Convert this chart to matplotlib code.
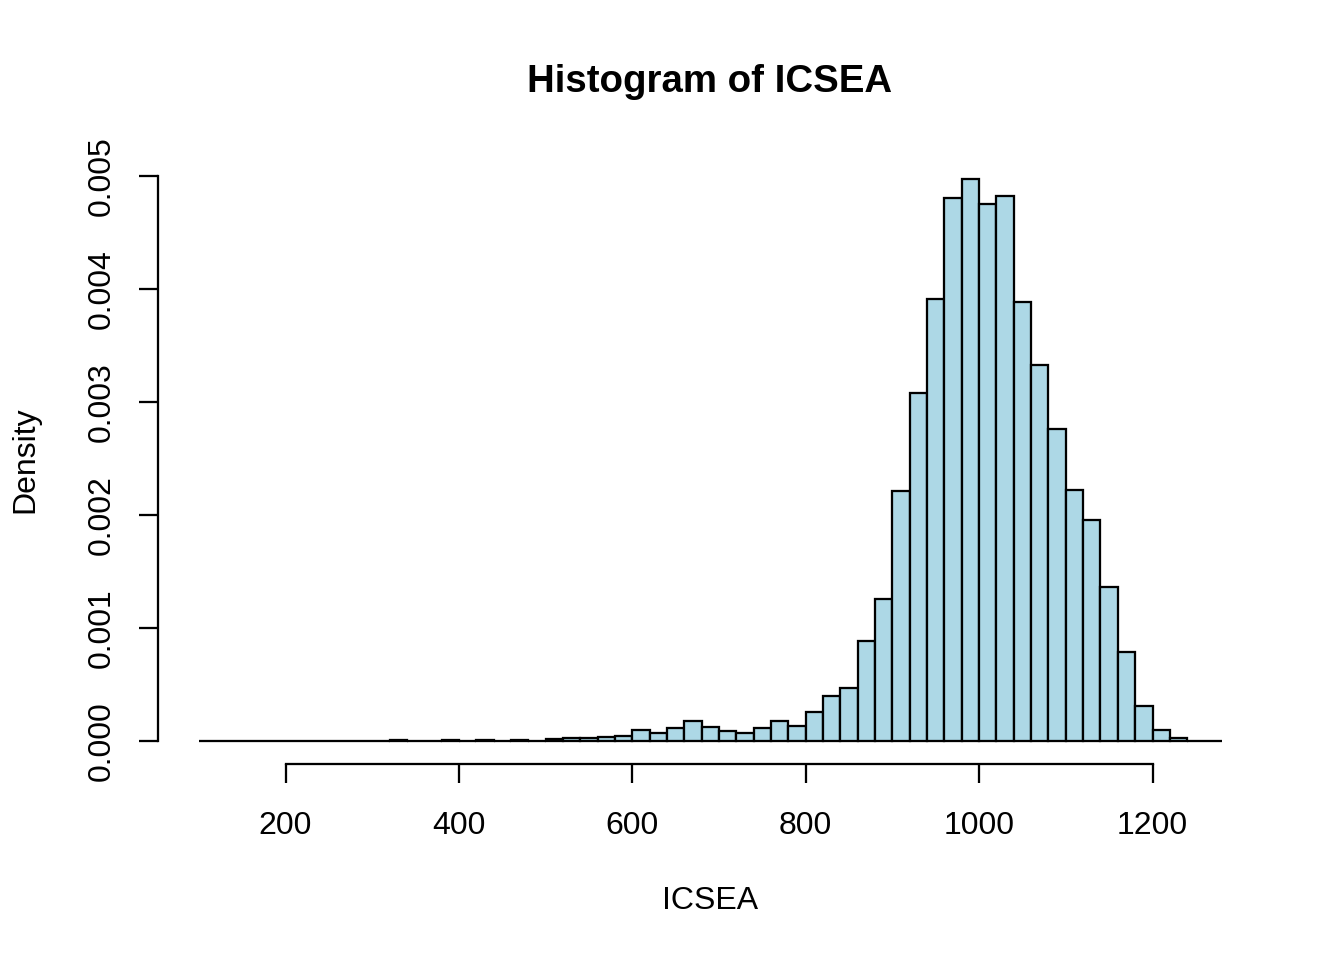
import matplotlib.pyplot as plt
import numpy as np

plt.rcParams["font.family"] = ["Liberation Sans", "DejaVu Sans"]

# histogram of ICSEA, bins of width 20 from 100 to 1280
breaks = np.arange(100, 1281, 20)
density = [
    0, 0, 0, 0, 0, 0, 0, 0, 0, 0, 0,          # 100 - 320
    1.3e-5, 0, 0, 1.3e-5, 0, 1.3e-5, 0, 1.3e-5, 0,  # 320 - 500
    2.0e-5, 2.7e-5, 2.7e-5, 4.0e-5, 4.9e-5,   # 500 - 600
    9.5e-5, 6.8e-5, 1.15e-4, 1.74e-4, 1.24e-4,  # 600 - 700
    8.6e-5, 6.8e-5, 1.15e-4, 1.74e-4, 1.33e-4,  # 700 - 800
    2.54e-4, 3.96e-4, 4.66e-4, 8.82e-4, 1.254e-3,  # 800 - 900
    2.21e-3, 3.08e-3, 3.91e-3, 4.805e-3, 4.97e-3,  # 900 - 1000
    4.755e-3, 4.825e-3, 3.885e-3, 3.33e-3, 2.76e-3,  # 1000 - 1100
    2.22e-3, 1.96e-3, 1.36e-3, 7.87e-4, 3.1e-4,  # 1100 - 1200
    9.7e-5, 2.9e-5, 0, 0,                     # 1200 - 1280
]
xticks = [200, 400, 600, 800, 1000, 1200]
yticks = [0.000, 0.001, 0.002, 0.003, 0.004, 0.005]

W, H = 1344, 960
fig = plt.figure(figsize=(7, 5), dpi=192)
ax = fig.add_axes([157.9 / W, (H - 763.5) / H, 1104.9 / W, 606.5 / H])

lw = 0.85
ax.bar(breaks[:-1], density, width=20, align="edge",
       color="#ADD8E6", edgecolor="black", linewidth=lw)

xr = breaks[-1] - breaks[0]
ax.set_xlim(breaks[0] - 0.04 * xr, breaks[-1] + 0.04 * xr)
ymax = max(density)
ax.set_ylim(-0.04 * ymax, 1.04 * ymax)

for s in ["top", "right"]:
    ax.spines[s].set_visible(False)
ax.spines["bottom"].set_bounds(xticks[0], xticks[-1])
ax.spines["left"].set_bounds(yticks[0], yticks[-1])
for s in ["bottom", "left"]:
    ax.spines[s].set_linewidth(lw)

ax.set_xticks(xticks)
ax.set_xticklabels([str(t) for t in xticks])
ax.set_yticks(yticks)
ax.set_yticklabels(["%.3f" % t for t in yticks], rotation=90, va="center")
ax.tick_params(axis="both", direction="out", length=7, width=lw, labelsize=12)
ax.tick_params(axis="x", pad=10.8)
ax.tick_params(axis="y", pad=8.4)

fig.text(710 / W, 1 - 82 / H, "Histogram of ICSEA", ha="center", va="center",
         fontsize=14.4, fontweight="bold")
fig.text(710 / W, 1 - 901 / H, "ICSEA", ha="center", va="center", fontsize=12)
fig.text(25 / W, 1 - 460 / H, "Density", ha="center", va="center",
         fontsize=12, rotation=90)

fig.savefig("out.png", dpi=192)
